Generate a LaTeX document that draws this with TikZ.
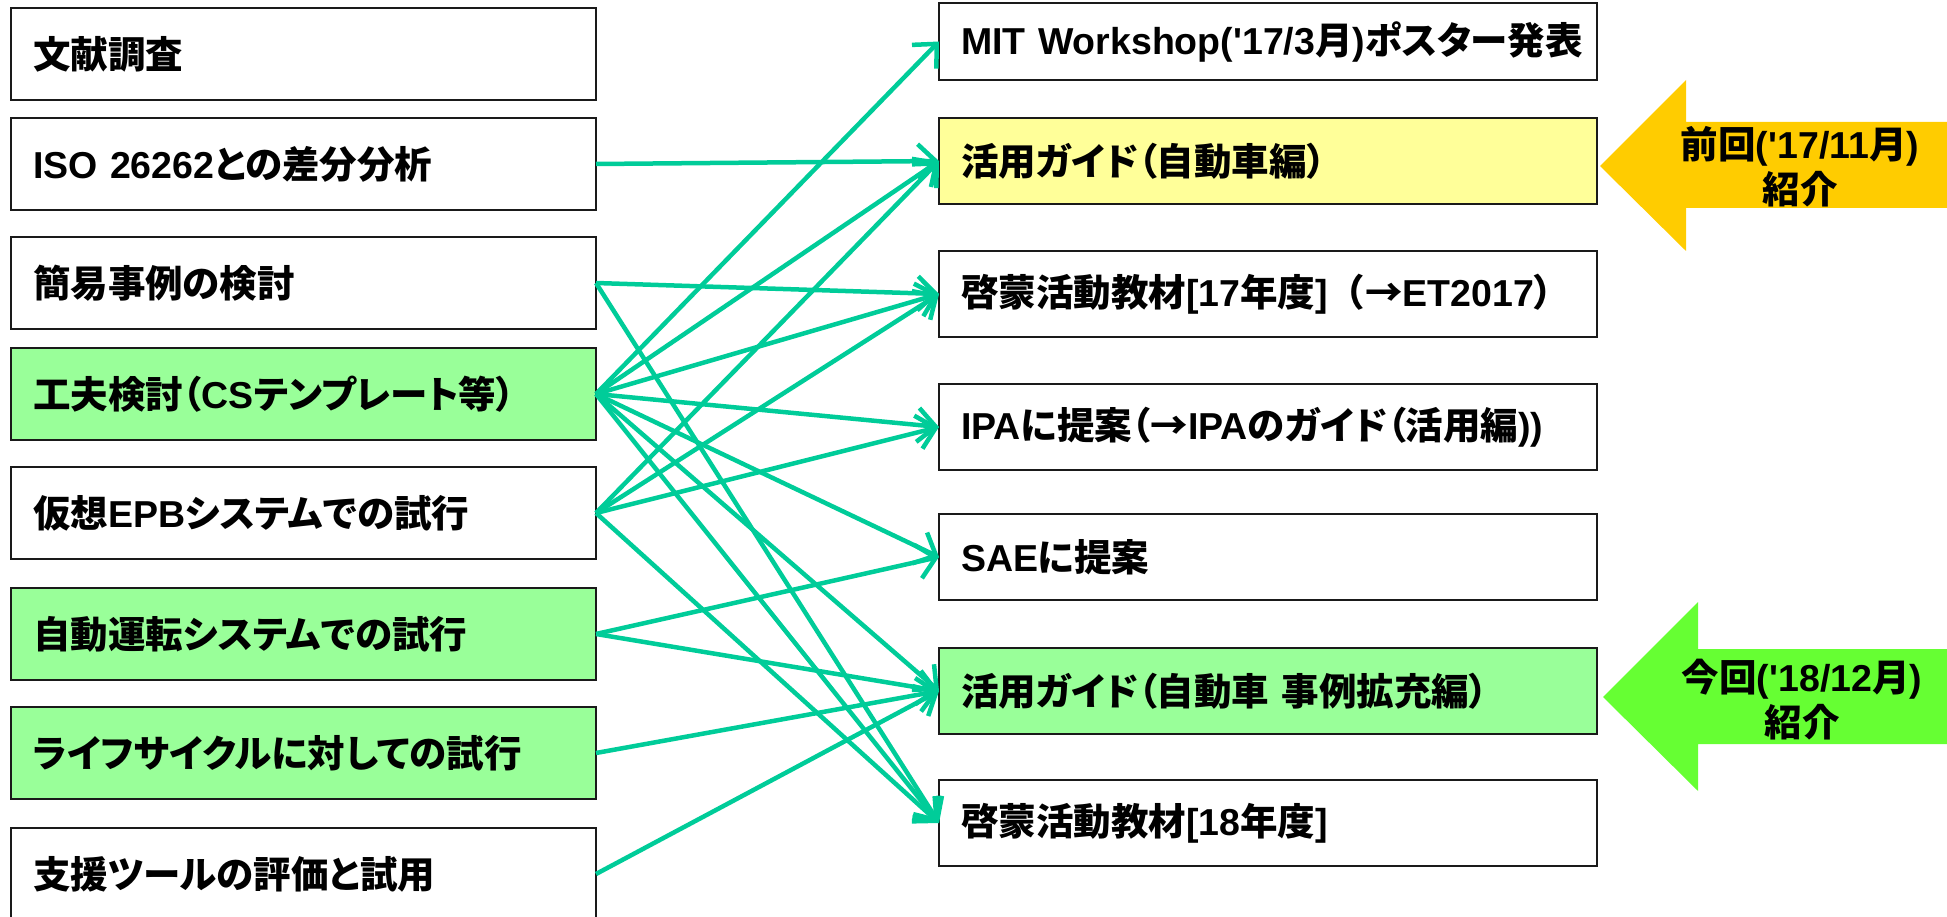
\documentclass[tikz,border=0pt]{standalone}
\usepackage{fontspec}
\setmainfont{Liberation Sans}[Ligatures=TeXOff]
\newfontfamily\jpfont{Noto Sans CJK JP}[RawFeature=+palt]
\newfontfamily\jpfw{Noto Sans CJK JP}
\newcommand\J[1]{{\jpfont #1}}
\newcommand\JF[1]{{\jpfw #1}}
\newcommand\sq{'}
\usetikzlibrary{arrows.meta}
\definecolor{linkc}{HTML}{00CC99}
\definecolor{gfill}{HTML}{99FF99}
\definecolor{yfill}{HTML}{FFFF99}
\definecolor{orangeA}{HTML}{FFCC00}
\definecolor{greenA}{HTML}{66FF33}
\definecolor{bordc}{HTML}{1A1A1A}
\begin{document}
\begin{tikzpicture}[x=1pt,y=-1pt,
  box/.style={draw=bordc, line width=2pt, anchor=north west, outer sep=0pt,
    inner xsep=22pt, inner ysep=0pt, align=left,
    font=\fontsize{37.5}{40}\selectfont\bfseries},
  lbox/.style={box, minimum height=92pt, text width=541pt},
  rbox/.style={box, minimum height=86pt, text width=614pt},
  link/.style={draw=linkc, line width=4.5pt,
    -{Straight Barb[length=18pt,width=34pt]}},
  bigtext/.style={font=\fontsize{37.5}{45}\selectfont\bfseries, align=center}
]
\useasboundingbox (0,0) rectangle (1947,917);
\clip (0,0) rectangle (1947,917);

% left column
\node[lbox] (L1) at (11,8) {\J{文献調査}};
\node[lbox] (L2) at (11,118) {ISO 26262\J{との差分分析}};
\node[lbox] (L3) at (11,237) {\J{簡易事例の検討}};
\node[lbox, fill=gfill] (L4) at (11,348) {\J{工夫検討（}CS\J{テンプレート等）}};
\node[lbox] (L5) at (11,467) {\J{仮想}EPB\J{システムでの試行}};
\node[lbox, fill=gfill] (L6) at (11,588) {\J{自動運転システムでの試行}};
\node[lbox, fill=gfill] (L7) at (11,707) {\J{ライフサイクルに対しての試行}};
\node[lbox] (L8) at (11,828) {\J{支援ツールの評価と試用}};

% right column
\node[rbox, minimum height=77pt] (R1) at (939,3) {\mbox{MIT Workshop(\sq 17/3\J{月}{)}\J{ポスター発表}}};
\node[rbox, fill=yfill] (R2) at (939,118) {\J{活用ガイド（自動車編）}};
\node[rbox] (R3) at (939,251) {\mbox{\J{啓蒙活動教材}[17\J{年度}]\JF{（}\J{→}ET2017\J{）}}};
\node[rbox] (R4) at (939,384) {\mbox{IPA\J{に提案（→}IPA\J{のガイド（活用編}))}};
\node[rbox] (R5) at (939,514) {SAE\J{に提案}};
\node[rbox, fill=gfill] (R6) at (939,648) {\J{活用ガイド（自動車 事例拡充編）}};
\node[rbox] (R7) at (939,780) {\J{啓蒙活動教材}[18\J{年度}]};

% connectors
\draw[link] (L2.east) -- (R2.west);
\draw[link] (L3.east) -- (R3.west);
\draw[link] (L3.east) -- (R7.west);
\draw[link] (L4.east) -- (R1.west);
\draw[link] (L4.east) -- (R2.west);
\draw[link] (L4.east) -- (R3.west);
\draw[link] (L4.east) -- (R4.west);
\draw[link] (L4.east) -- (R5.west);
\draw[link] (L4.east) -- (R6.west);
\draw[link] (L4.east) -- (R7.west);
\draw[link] (L5.east) -- (R2.west);
\draw[link] (L5.east) -- (R3.west);
\draw[link] (L5.east) -- (R4.west);
\draw[link] (L5.east) -- (R7.west);
\draw[link] (L6.east) -- (R5.west);
\draw[link] (L6.east) -- (R6.west);
\draw[link] (L7.east) -- (R6.west);
\draw[link] (L8.east) -- (R6.west);

% block arrows
\fill[orangeA] (1600,166) -- (1686,80) -- (1686,122) -- (1947,122) -- (1947,208)
  -- (1686,208) -- (1686,251) -- cycle;
\node[bigtext] (prev) at (1800,167) {\J{前回}(\sq 17/11\J{月})\\\J{紹介}};
\fill[greenA] (1603,697) -- (1698,602) -- (1698,649) -- (1947,649) -- (1947,744)
  -- (1698,744) -- (1698,791) -- cycle;
\node[bigtext] (curr) at (1802,700) {\J{今回}(\sq 18/12\J{月})\\\J{紹介}};
\end{tikzpicture}
\end{document}
